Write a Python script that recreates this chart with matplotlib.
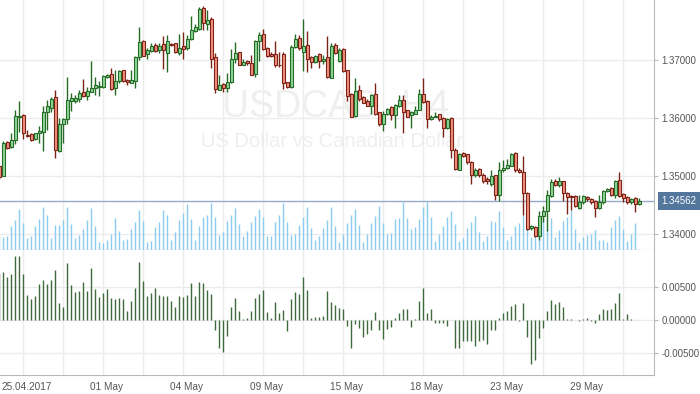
import numpy as np
import matplotlib.pyplot as plt
from matplotlib.transforms import blended_transform_factory, ScaledTranslation

plt.rcParams['font.family'] = ['Liberation Sans', 'DejaVu Sans']

# USDCAD H4 candles, 25.04.2017 - 02.06.2017
opens = [
    1.3517, 1.3500, 1.3558, 1.3549, 1.3561, 1.3602, 1.3605, 1.3570, 1.3572, 1.3563,
    1.3573, 1.3576, 1.3609, 1.3617, 1.3635, 1.3543, 1.3589, 1.3597, 1.3629, 1.3629,
    1.3632, 1.3644, 1.3638, 1.3645, 1.3652, 1.3653, 1.3653, 1.3671, 1.3675, 1.3651,
    1.3663, 1.3682, 1.3665, 1.3660, 1.3664, 1.3704, 1.3732, 1.3709, 1.3715, 1.3725,
    1.3716, 1.3727, 1.3712, 1.3727, 1.3728, 1.3712, 1.3724, 1.3720, 1.3735, 1.3750,
    1.3753, 1.3789, 1.3761, 1.3770, 1.3704, 1.3648, 1.3658, 1.3652, 1.3661, 1.3702,
    1.3713, 1.3691, 1.3698, 1.3694, 1.3675, 1.3732, 1.3744, 1.3721, 1.3710, 1.3709,
    1.3691, 1.3710, 1.3661, 1.3653, 1.3722, 1.3737, 1.3714, 1.3725, 1.3704, 1.3696,
    1.3709, 1.3697, 1.3704, 1.3669, 1.3725, 1.3697, 1.3718, 1.3682, 1.3640, 1.3603,
    1.3648, 1.3636, 1.3629, 1.3621, 1.3640, 1.3609, 1.3589, 1.3606, 1.3618, 1.3604,
    1.3621, 1.3631, 1.3613, 1.3605, 1.3607, 1.3614, 1.3640, 1.3629, 1.3597, 1.3602,
    1.3606, 1.3599, 1.3582, 1.3600, 1.3545, 1.3510, 1.3539, 1.3537, 1.3524, 1.3501,
    1.3511, 1.3502, 1.3494, 1.3485, 1.3501, 1.3467, 1.3510, 1.3513, 1.3517, 1.3539,
    1.3510, 1.3506, 1.3471, 1.3409, 1.3412, 1.3396, 1.3431, 1.3439, 1.3465, 1.3490,
    1.3484, 1.3491, 1.3471, 1.3465, 1.3465, 1.3444, 1.3454, 1.3464, 1.3460, 1.3457,
    1.3444, 1.3454, 1.3474, 1.3479, 1.3467, 1.3493, 1.3468, 1.3464, 1.3455, 1.3462,
    1.3451,
]
highs = [
    1.3518, 1.3559, 1.3560, 1.3573, 1.3613, 1.3628, 1.3607, 1.3579, 1.3574, 1.3574,
    1.3586, 1.3620, 1.3631, 1.3635, 1.3648, 1.3599, 1.3599, 1.3670, 1.3642, 1.3639,
    1.3648, 1.3667, 1.3653, 1.3697, 1.3671, 1.3663, 1.3674, 1.3675, 1.3685, 1.3682,
    1.3682, 1.3682, 1.3666, 1.3682, 1.3706, 1.3757, 1.3734, 1.3720, 1.3728, 1.3728,
    1.3729, 1.3740, 1.3743, 1.3729, 1.3729, 1.3745, 1.3747, 1.3743, 1.3775, 1.3762,
    1.3791, 1.3793, 1.3786, 1.3774, 1.3711, 1.3674, 1.3659, 1.3677, 1.3718, 1.3731,
    1.3714, 1.3701, 1.3699, 1.3708, 1.3734, 1.3747, 1.3753, 1.3722, 1.3714, 1.3732,
    1.3713, 1.3713, 1.3662, 1.3725, 1.3744, 1.3743, 1.3770, 1.3749, 1.3706, 1.3708,
    1.3711, 1.3708, 1.3741, 1.3729, 1.3728, 1.3720, 1.3720, 1.3683, 1.3642, 1.3669,
    1.3656, 1.3638, 1.3632, 1.3640, 1.3659, 1.3610, 1.3612, 1.3617, 1.3620, 1.3623,
    1.3639, 1.3639, 1.3614, 1.3611, 1.3620, 1.3650, 1.3669, 1.3631, 1.3605, 1.3610,
    1.3607, 1.3601, 1.3599, 1.3601, 1.3547, 1.3539, 1.3540, 1.3538, 1.3525, 1.3513,
    1.3513, 1.3504, 1.3497, 1.3510, 1.3502, 1.3524, 1.3527, 1.3529, 1.3539, 1.3540,
    1.3514, 1.3534, 1.3472, 1.3415, 1.3413, 1.3439, 1.3447, 1.3476, 1.3495, 1.3495,
    1.3497, 1.3491, 1.3472, 1.3467, 1.3467, 1.3467, 1.3467, 1.3465, 1.3462, 1.3458,
    1.3467, 1.3475, 1.3479, 1.3481, 1.3493, 1.3507, 1.3470, 1.3465, 1.3462, 1.3464,
    1.3461,
]
lows = [
    1.3495, 1.3499, 1.3546, 1.3548, 1.3554, 1.3576, 1.3564, 1.3567, 1.3559, 1.3562,
    1.3556, 1.3543, 1.3579, 1.3610, 1.3531, 1.3541, 1.3556, 1.3589, 1.3612, 1.3626,
    1.3627, 1.3636, 1.3631, 1.3645, 1.3639, 1.3638, 1.3652, 1.3669, 1.3648, 1.3639,
    1.3659, 1.3662, 1.3656, 1.3659, 1.3651, 1.3699, 1.3706, 1.3702, 1.3714, 1.3714,
    1.3711, 1.3684, 1.3679, 1.3724, 1.3712, 1.3708, 1.3701, 1.3717, 1.3734, 1.3747,
    1.3751, 1.3752, 1.3751, 1.3685, 1.3643, 1.3647, 1.3645, 1.3645, 1.3659, 1.3694,
    1.3691, 1.3690, 1.3691, 1.3673, 1.3671, 1.3697, 1.3717, 1.3705, 1.3705, 1.3688,
    1.3688, 1.3649, 1.3652, 1.3652, 1.3720, 1.3717, 1.3681, 1.3679, 1.3686, 1.3695,
    1.3686, 1.3693, 1.3668, 1.3668, 1.3710, 1.3696, 1.3679, 1.3628, 1.3601, 1.3602,
    1.3628, 1.3625, 1.3620, 1.3607, 1.3605, 1.3586, 1.3577, 1.3605, 1.3596, 1.3582,
    1.3619, 1.3573, 1.3601, 1.3583, 1.3606, 1.3613, 1.3625, 1.3583, 1.3596, 1.3602,
    1.3595, 1.3566, 1.3580, 1.3530, 1.3510, 1.3509, 1.3533, 1.3521, 1.3486, 1.3498,
    1.3498, 1.3487, 1.3486, 1.3482, 1.3458, 1.3457, 1.3507, 1.3512, 1.3516, 1.3507,
    1.3504, 1.3432, 1.3406, 1.3406, 1.3395, 1.3390, 1.3421, 1.3404, 1.3464, 1.3483,
    1.3481, 1.3457, 1.3434, 1.3441, 1.3446, 1.3443, 1.3452, 1.3457, 1.3452, 1.3429,
    1.3443, 1.3452, 1.3472, 1.3465, 1.3461, 1.3463, 1.3454, 1.3452, 1.3452, 1.3438,
    1.3450,
]
closes = [
    1.3498, 1.3556, 1.3548, 1.3561, 1.3603, 1.3603, 1.3573, 1.3569, 1.3562, 1.3573,
    1.3577, 1.3609, 1.3621, 1.3632, 1.3545, 1.3589, 1.3597, 1.3631, 1.3634, 1.3634,
    1.3642, 1.3638, 1.3646, 1.3652, 1.3656, 1.3654, 1.3672, 1.3673, 1.3650, 1.3663,
    1.3681, 1.3663, 1.3661, 1.3665, 1.3704, 1.3730, 1.3707, 1.3717, 1.3724, 1.3715,
    1.3724, 1.3716, 1.3732, 1.3726, 1.3713, 1.3721, 1.3718, 1.3735, 1.3751, 1.3757,
    1.3787, 1.3763, 1.3768, 1.3702, 1.3649, 1.3656, 1.3652, 1.3662, 1.3702, 1.3712,
    1.3691, 1.3696, 1.3694, 1.3674, 1.3732, 1.3742, 1.3718, 1.3707, 1.3707, 1.3690,
    1.3690, 1.3659, 1.3653, 1.3722, 1.3735, 1.3721, 1.3724, 1.3702, 1.3696, 1.3707,
    1.3698, 1.3702, 1.3670, 1.3724, 1.3712, 1.3717, 1.3681, 1.3638, 1.3602, 1.3646,
    1.3633, 1.3626, 1.3621, 1.3639, 1.3606, 1.3589, 1.3606, 1.3615, 1.3604, 1.3622,
    1.3631, 1.3610, 1.3602, 1.3609, 1.3613, 1.3640, 1.3627, 1.3597, 1.3602, 1.3603,
    1.3597, 1.3582, 1.3598, 1.3544, 1.3511, 1.3537, 1.3534, 1.3524, 1.3501, 1.3510,
    1.3501, 1.3491, 1.3490, 1.3499, 1.3467, 1.3510, 1.3514, 1.3518, 1.3537, 1.3510,
    1.3506, 1.3470, 1.3408, 1.3413, 1.3396, 1.3431, 1.3439, 1.3467, 1.3489, 1.3484,
    1.3490, 1.3471, 1.3464, 1.3463, 1.3447, 1.3454, 1.3465, 1.3459, 1.3455, 1.3444,
    1.3455, 1.3474, 1.3477, 1.3467, 1.3491, 1.3465, 1.3461, 1.3454, 1.3460, 1.3451,
    1.34562,
]
# tick volume (relative)
volumes = [
    45, 39, 42, 72, 90, 123, 81, 36, 42, 72,
    93, 129, 105, 36, 75, 75, 90, 129, 78, 36,
    45, 63, 90, 126, 72, 24, 21, 30, 48, 96,
    57, 30, 33, 63, 84, 120, 87, 24, 27, 69,
    84, 120, 105, 30, 54, 90, 111, 138, 93, 30,
    72, 99, 105, 141, 99, 45, 54, 87, 105, 126,
    78, 42, 57, 84, 102, 123, 99, 42, 42, 84,
    105, 141, 84, 45, 48, 75, 99, 129, 66, 30,
    42, 66, 90, 129, 72, 24, 48, 81, 105, 123,
    75, 24, 48, 81, 102, 132, 81, 48, 51, 93,
    96, 144, 96, 63, 69, 93, 129, 144, 99, 27,
    48, 72, 99, 117, 78, 27, 36, 66, 84, 102,
    54, 27, 42, 87, 84, 117, 69, 30, 42, 72,
    81, 105, 63, 39, 42, 78, 96, 63, 96, 39,
    60, 87, 99, 120, 63, 24, 39, 45, 48, 60,
    30, 30, 24, 69, 90, 102, 63, 27, 48, 81,
    3,
]
# lower panel histogram
momentum = [
    0.0070, 0.00725, 0.0065, 0.0069, 0.0096, 0.0096, 0.0069, 0.00375, 0.0031, 0.0036,
    0.00535, 0.00595, 0.0054, 0.0060, 0.0075, 0.0025, 0.00195, 0.00855, 0.00525, 0.0042,
    0.00435, 0.0057, 0.00435, 0.0078, 0.00465, 0.0034, 0.00405, 0.00465, 0.0033, 0.00315,
    0.0033, 0.0031, 0.00135, 0.00285, 0.0048, 0.0087, 0.00585, 0.0036, 0.0041, 0.0048,
    0.0037, 0.00355, 0.00355, 0.00285, 0.00195, 0.00355, 0.00345, 0.00375, 0.00555, 0.0036,
    0.0057, 0.00555, 0.00455, 0.00395, -0.0015, -0.00415, -0.00485, -0.00235, 0.00195, 0.00325,
    0.0014, 0.0002, 0.00035, 0.00135, 0.0033, 0.0039, 0.0045, 0.0012, 0.0003, 0.0027,
    0.00105, 0.0015, -0.0016, 0.00315, 0.0042, 0.0039, 0.00645, 0.0045, 0.0003, 0.0005,
    0.0005, 0.0006, 0.00435, 0.0027, 0.00225, 0.00175, 0.00165, -0.00085, -0.00425, -0.00065,
    -0.00125, -0.00255, -0.00215, -0.00145, 0.00115, -0.0015, -0.0028, -0.0014, -0.001, 0.00035,
    0.001, 0.00165, 0.00165, -0.001, 0.00015, 0.00285, 0.00475, 0.0011, 0.00165, -0.0004,
    -0.0004, -0.0004, -0.00085, 0.0, -0.00415, -0.00415, -0.0031, -0.0031, -0.0031, -0.00385,
    -0.0031, -0.003, -0.00355, -0.0015, -0.0015, 0.00025, 0.0011, 0.0014, 0.0021, 0.0024,
    -0.00015, 0.00255, -0.0025, -0.00665, -0.006, -0.00265, -0.00115, 0.00135, 0.00295, 0.0024,
    0.00265, 0.00195, 0.00015, 0.00015, -0.00005, -0.00015, 0.00015, 0.00035, -0.00015, -0.0004,
    0.00085, 0.00165, 0.0015, 0.00165, 0.00255, 0.004, 0.00015, 0.0009, 0.00015, -0.00005,
    -0.00005,
]
date_labels = ['25.04.2017', '01 May', '04 May', '09 May', '15 May', '18 May', '23 May', '29 May']
price_ticks = [1.34, 1.35, 1.36, 1.37]
ind_ticks = [-0.005, 0.0, 0.005]

o = np.array(opens)
h = np.array(highs)
l = np.array(lows)
c = np.array(closes)
x = np.arange(len(o))

W, H = 700, 394
fig = plt.figure(figsize=(W / 100, H / 100), dpi=100)
ax = fig.add_axes([0, 144 / H, 654 / W, 250 / H])
ind = fig.add_axes([0, 19 / H, 654 / W, 125 / H], sharex=ax)

grid_c = '#ececec'
axis_c = '#b9b9b9'
txt_c = '#555555'
fs = 7.0

# watermark
ax.text(222 / W, 1 - 117 / H, 'USDCAD, H4', transform=fig.transFigure, fontsize=27,
        color='#efefef', ha='left', va='baseline', zorder=1)
ax.text(201 / W, 1 - 147 / H, 'US Dollar vs Canadian Dollar', transform=fig.transFigure,
        fontsize=14.5, color='#efefef', ha='left', va='baseline', zorder=1)

# volume in the bottom part of the price panel
VOL_TOP = 750
ax.vlines(x, 0, np.array(volumes) / VOL_TOP, transform=ax.get_xaxis_transform(),
          colors='#8ecbf0', lw=1.0, zorder=2)

last = closes[-1]
ax.axhline(last, color='#96adc8', lw=1, zorder=2.5)

# candles
up = c >= o
edge = np.where(up, '#256b25', '#7c2318')
fill = np.where(up, '#8ed79a', '#f2917f')
ax.vlines(x, l, h, colors=edge, lw=1, zorder=3)
ax.bar(x, np.abs(c - o), bottom=np.minimum(o, c), width=0.72, color=fill,
       edgecolor=edge, lw=0.8, zorder=4)

ax.set_xlim(0.1675, 163.67)
ax.set_ylim(1.33719, 1.38029)
ax.set_yticks(price_ticks)
ax.set_yticklabels([f'{p:.5f}' for p in price_ticks])
ax.yaxis.tick_right()

grid_idx = list(range(6, len(x), 10))
ax.set_xticks(grid_idx)
ind.set_xticklabels([date_labels[k // 2] if k % 2 == 0 else '' for k in range(len(grid_idx))])

# current price tag
tr = blended_transform_factory(ax.transAxes, ax.transData)
ax.text(679 / 654, last, f'{last:.5f}', transform=tr, ha='center', va='center',
        color='white', fontsize=fs, clip_on=False, zorder=6,
        bbox=dict(boxstyle='square,pad=0.4', fc='#52769c', ec='none'))

# indicator panel
ind.vlines(x, 0, momentum, colors='#3e6a3e', lw=1.0, zorder=3)
ind.set_ylim(-0.00825, 0.0105)
ind.set_yticks(ind_ticks)
ind.set_yticklabels([f'{v:.5f}' for v in ind_ticks])
ind.yaxis.tick_right()

for a in (ax, ind):
    a.set_facecolor('white')
    a.grid(True, color=grid_c, lw=1)
    a.set_axisbelow(True)
    a.spines['top'].set_visible(False)
    a.spines['left'].set_visible(False)
    a.spines['right'].set_color(axis_c)
    a.spines['bottom'].set_color(axis_c)
    a.tick_params(axis='y', length=3, color=axis_c, labelsize=fs, labelcolor=txt_c, pad=2.5)
    a.tick_params(axis='x', length=0, labelsize=fs + 0.2, labelcolor=txt_c, pad=5)
ax.tick_params(axis='x', labelbottom=False)

# date labels sit a little right of their grid line
shift = ScaledTranslation(3 / 100, 0, fig.dpi_scale_trans)
for lab in ind.get_xticklabels():
    lab.set_transform(lab.get_transform() + shift)

fig.savefig('out.png', dpi=100)
